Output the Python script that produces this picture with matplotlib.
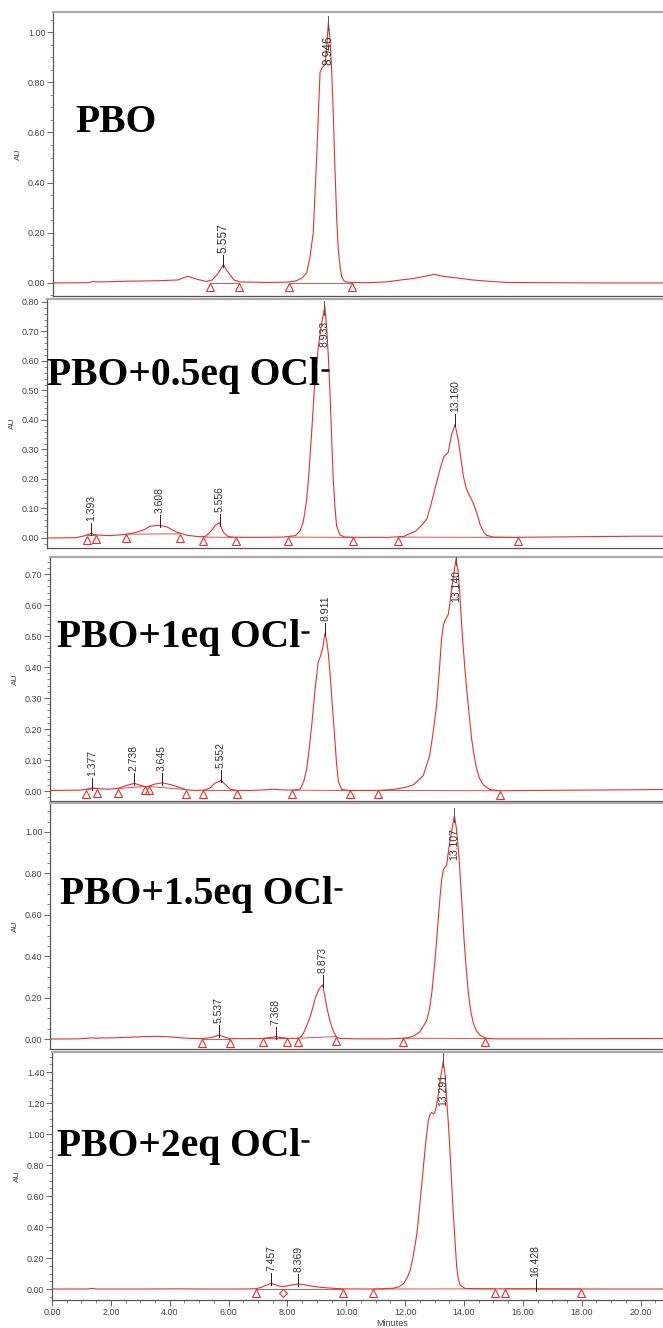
import numpy as np
import matplotlib
matplotlib.use('Agg')
import matplotlib.pyplot as plt
from matplotlib.ticker import MultipleLocator, FormatStrFormatter
from matplotlib.lines import Line2D
from matplotlib.transforms import IdentityTransform, offset_copy

W, H = 663, 1328
RED = '#e23232'

# chromatograms, (minutes, AU)
pbo = [(0, 0.0), (1.2, 0.001), (1.36, 0.006), (1.5, 0.004), (2.5, 0.007), (3.5, 0.009),
       (4.1, 0.012), (4.4, 0.027), (4.7, 0.015), (5.0, 0.006), (5.2, 0.012), (5.4, 0.04),
       (5.56, 0.073), (5.7, 0.045), (5.9, 0.012), (6.1, 0.004), (6.5, 0.003), (7.0, 0.002),
       (7.6, 0.003), (7.9, 0.008), (8.1, 0.02), (8.25, 0.04), (8.35, 0.1), (8.46, 0.2),
       (8.57, 0.5), (8.68, 0.84), (8.76, 0.86), (8.84, 0.87), (8.9, 0.95), (8.95, 1.04),
       (9.0, 0.97), (9.05, 0.86), (9.1, 0.7), (9.16, 0.46), (9.22, 0.25), (9.27, 0.13),
       (9.33, 0.06), (9.38, 0.024), (9.46, 0.008), (9.54, 0.004), (9.7, 0.002), (10.2, 0.001),
       (10.8, 0.004), (11.3, 0.012), (11.7, 0.018), (12.0, 0.025), (12.2, 0.03), (12.35, 0.035),
       (12.5, 0.03), (12.8, 0.024), (13.1, 0.02), (13.6, 0.012), (14.2, 0.006), (14.7, 0.002),
       (16, 0.001), (18, 0.0), (21, 0.0)]

eq05 = [(0, 0.0), (0.9, 0.001), (1.2, 0.008), (1.3, 0.012), (1.39, 0.016), (1.48, 0.011),
        (1.6, 0.01), (2.0, 0.008), (2.5, 0.012), (2.8, 0.018), (3.1, 0.028), (3.3, 0.04),
        (3.6, 0.043), (3.85, 0.037), (4.15, 0.02), (4.5, 0.009), (4.9, 0.004), (5.1, 0.006),
        (5.28, 0.025), (5.4, 0.042), (5.54, 0.052), (5.66, 0.02), (5.8, 0.006), (5.95, 0.003),
        (6.3, 0.002), (7.0, 0.002), (7.6, 0.003), (8.0, 0.008), (8.15, 0.025), (8.25, 0.054),
        (8.35, 0.12), (8.42, 0.2), (8.53, 0.37), (8.63, 0.54), (8.74, 0.65), (8.85, 0.73),
        (8.95, 0.785), (9.01, 0.71), (9.07, 0.6), (9.12, 0.48), (9.17, 0.34), (9.22, 0.2),
        (9.28, 0.1), (9.33, 0.04), (9.44, 0.01), (9.6, 0.003), (10.2, 0.002), (11.0, 0.002),
        (11.5, 0.005), (11.9, 0.024), (12.1, 0.045), (12.25, 0.065), (12.35, 0.1), (12.46, 0.145),
        (12.57, 0.19), (12.68, 0.235), (12.8, 0.275), (12.94, 0.29), (13.05, 0.35), (13.16, 0.385),
        (13.27, 0.33), (13.35, 0.27), (13.43, 0.21), (13.52, 0.17), (13.6, 0.15), (13.76, 0.116),
        (13.88, 0.08), (13.98, 0.043), (14.1, 0.018), (14.19, 0.009), (14.4, 0.003), (15.0, 0.002),
        (16, 0.003), (17, 0.004), (18, 0.005), (19, 0.006), (21, 0.006)]

eq1 = [(0, 0.002), (1.0, 0.003), (1.2, 0.006), (1.38, 0.01), (1.56, 0.008), (1.9, 0.006),
       (2.2, 0.008), (2.5, 0.018), (2.75, 0.025), (3.0, 0.017), (3.15, 0.014), (3.4, 0.022),
       (3.65, 0.027), (3.95, 0.02), (4.2, 0.012), (4.45, 0.004), (4.7, 0.002), (5.0, 0.003),
       (5.2, 0.01), (5.35, 0.025), (5.55, 0.035), (5.7, 0.02), (5.85, 0.006), (6.06, 0.002),
       (6.5, 0.002), (7.0, 0.004), (7.24, 0.006), (7.5, 0.004), (7.85, 0.003), (8.1, 0.006),
       (8.22, 0.03), (8.32, 0.073), (8.4, 0.14), (8.48, 0.213), (8.59, 0.33), (8.69, 0.417),
       (8.76, 0.435), (8.83, 0.46), (8.91, 0.51), (8.97, 0.48), (9.02, 0.44), (9.07, 0.38),
       (9.12, 0.31), (9.18, 0.23), (9.23, 0.16), (9.28, 0.09), (9.34, 0.03), (9.45, 0.005),
       (9.7, 0.002), (10.6, 0.002), (11.1, 0.005), (11.5, 0.012), (11.76, 0.02), (12.08, 0.05),
       (12.29, 0.116), (12.4, 0.19), (12.51, 0.277), (12.6, 0.39), (12.67, 0.49), (12.73, 0.535),
       (12.78, 0.55), (12.89, 0.57), (13.0, 0.654), (13.08, 0.71), (13.14, 0.75), (13.2, 0.71),
       (13.25, 0.654), (13.3, 0.57), (13.35, 0.49), (13.42, 0.4), (13.48, 0.33), (13.56, 0.25),
       (13.64, 0.17), (13.72, 0.115), (13.8, 0.073), (13.9, 0.04), (14.02, 0.02), (14.23, 0.005),
       (14.56, 0.001), (15.5, 0.002), (17, 0.003), (18.5, 0.004), (21, 0.006)]

eq15 = [(0, 0.0), (1.0, 0.001), (1.3, 0.004), (1.4, 0.006), (1.6, 0.004), (1.75, 0.006),
        (1.9, 0.005), (2.5, 0.008), (3.2, 0.012), (3.6, 0.013), (4.0, 0.01), (4.5, 0.004),
        (5.0, 0.002), (5.3, 0.008), (5.54, 0.019), (5.75, 0.008), (5.89, 0.002), (6.5, 0.002),
        (6.94, 0.003), (7.2, 0.008), (7.37, 0.011), (7.6, 0.006), (7.8, 0.003), (8.07, 0.004),
        (8.18, 0.012), (8.25, 0.027), (8.36, 0.065), (8.47, 0.108), (8.55, 0.15), (8.63, 0.196),
        (8.74, 0.237), (8.8, 0.25), (8.87, 0.262), (8.94, 0.21), (9.0, 0.156), (9.1, 0.09),
        (9.2, 0.043), (9.31, 0.011), (9.43, 0.003), (10, 0.001), (11, 0.001), (11.58, 0.005),
        (11.8, 0.015), (12.0, 0.035), (12.22, 0.09), (12.3, 0.14), (12.38, 0.22), (12.46, 0.34),
        (12.54, 0.48), (12.6, 0.6), (12.65, 0.69), (12.7, 0.77), (12.76, 0.82), (12.86, 0.84),
        (12.93, 0.92), (12.97, 0.96), (13.05, 1.03), (13.11, 1.08), (13.17, 1.02), (13.22, 0.945),
        (13.27, 0.85), (13.31, 0.75), (13.37, 0.61), (13.42, 0.48), (13.49, 0.34), (13.56, 0.22),
        (13.64, 0.13), (13.72, 0.076), (13.82, 0.04), (13.93, 0.019), (14.15, 0.003), (14.5, 0.001),
        (16, 0.001), (18, 0.002), (21, 0.003)]

eq2 = [(0, 0.0), (1.2, 0.0), (1.36, 0.004), (1.5, 0.0), (3, 0.0), (4.4, 0.001), (5, 0.0),
       (6.5, 0.0), (6.93, 0.002), (7.1, 0.01), (7.25, 0.022), (7.45, 0.037), (7.6, 0.027),
       (7.75, 0.018), (7.84, 0.016), (8.0, 0.02), (8.2, 0.028), (8.37, 0.032), (8.55, 0.028),
       (8.75, 0.021), (9.0, 0.014), (9.3, 0.008), (9.6, 0.004), (9.9, 0.001), (10.5, 0.0),
       (10.92, 0.0), (11.3, 0.002), (11.61, 0.005), (11.8, 0.015), (11.95, 0.037), (12.06, 0.07),
       (12.17, 0.12), (12.28, 0.22), (12.4, 0.36), (12.5, 0.55), (12.62, 0.79), (12.7, 0.95),
       (12.79, 1.09), (12.85, 1.13), (12.9, 1.14), (12.96, 1.13), (13.01, 1.14), (13.07, 1.19),
       (13.13, 1.26), (13.2, 1.36), (13.29, 1.47), (13.36, 1.38), (13.41, 1.22), (13.47, 1.06),
       (13.52, 0.9), (13.58, 0.68), (13.64, 0.47), (13.7, 0.29), (13.75, 0.144), (13.8, 0.07),
       (13.86, 0.026), (14.03, 0.004), (14.5, 0.001), (16, 0.001), (18, 0.0), (21, 0.0)]

# integration baselines (start t, start AU, end t, end AU)
pbo_base = [(5.13, 0.0, 6.07, 0.0), (7.69, 0.0, 9.70, 0.0)]
eq05_base = [(1.27, 0.008, 1.53, 0.009), (2.51, 0.013, 4.27, 0.014), (5.02, 0.003, 6.08, 0.002),
             (7.77, 0.003, 9.87, 0.002), (11.33, 0.003, 15.19, 0.002)]
eq1_base = [(1.19, 0.005, 1.56, 0.008), (2.21, 0.008, 3.10, 0.015), (3.21, 0.015, 4.41, 0.005),
            (4.98, 0.002, 6.06, 0.002), (7.85, 0.003, 9.72, 0.002), (10.63, 0.002, 14.56, 0.001)]
eq15_base = [(5.0, 0.002, 5.89, 0.002), (6.94, 0.003, 7.71, 0.003), (8.07, 0.004, 9.3, 0.012),
             (11.47, 0.004, 14.1, 0.003)]
eq2_base = [(6.93, 0.0, 9.9, 0.0), (10.92, 0.0, 15.06, 0.001), (15.39, 0.001, 17.96, 0.0)]
eq2_drops = [7.84]

# retention time labels
pbo_peaks = ['5.557', '8.946']
eq05_peaks = ['1.393', '3.608', '5.556', '8.933', '13.160']
eq1_peaks = ['1.377', '2.738', '3.645', '5.552', '8.911', '13.140']
eq15_peaks = ['5.537', '7.368', '8.873', '13.107']
eq2_peaks = ['7.457', '8.369', '13.291', '16.428']

names = ['PBO', 'PBO+0.5eq OCl', 'PBO+1eq OCl', 'PBO+1.5eq OCl', 'PBO+2eq OCl']

traces = [pbo, eq05, eq1, eq15, eq2]
bases = [pbo_base, eq05_base, eq1_base, eq15_base, eq2_base]
peaks = [pbo_peaks, eq05_peaks, eq1_peaks, eq15_peaks, eq2_peaks]

# layout in pixels: left, top, bottom, xlim, ylim, major, minor, name x, name baseline
layout = [
    (53, 12, 296, (0.06, 19.75), (-0.052, 1.08), 0.2, 0.05, 75, 132),
    (47, 299, 548, (-0.04, 19.89), (-0.034, 0.81), 0.1, 0.02, 47, 385),
    (50, 557, 801, (0.03, 19.82), (-0.032, 0.755), 0.1, 0.02, 57, 647),
    (50, 803, 1049, (0.1, 19.82), (-0.048, 1.14), 0.2, 0.05, 60, 904),
    (52, 1052, 1300, (0.0, 20.76), (-0.071, 1.53), 0.2, 0.05, 57, 1156),
]

fig = plt.figure(figsize=(W / 100, H / 100), dpi=100)
name_texts = []

for i in range(5):
    left, top, bot, xl, yl, major, minor, nx, nb = layout[i]
    ax = fig.add_axes([left / W, 1 - bot / H, (W - left) / W, (bot - top) / H])
    tr = np.array(traces[i])
    ax.plot(tr[:, 0], tr[:, 1], color=RED, lw=0.8, zorder=3)
    ax.set_xlim(*xl)
    ax.set_ylim(*yl)
    ppa = (bot - top) / (yl[1] - yl[0])

    below = offset_copy(ax.transData, fig=fig, y=-4, units='dots')
    for a, ya, b, yb in bases[i]:
        ax.plot([a, b], [ya, yb], color=RED, lw=0.6, zorder=2)
        ax.plot([a, b], [ya, yb], ls='none', marker='^', ms=6, mfc='none',
                mec=RED, mew=0.8, transform=below, zorder=4)
    if i == 4:
        for d in eq2_drops:
            ax.plot([d], [0], ls='none', marker='D', ms=4.5, mfc='none',
                    mec=RED, mew=0.8, transform=below, zorder=4)

    fs = 8.5 if i == 0 else 7.5
    for lbl in peaks[i]:
        t = float(lbl)
        ya = np.interp(t, tr[:, 0], tr[:, 1])
        room = (yl[1] - ya) * ppa
        if room < 50:
            ax.plot([t, t], [ya - 6 / ppa, ya + 8 / ppa], color='#555', lw=0.7, zorder=5)
            ax.text(t, ya - 12 / ppa, lbl, rotation=90, ha='center', va='top',
                    fontsize=fs, family='Liberation Sans', color='#333', zorder=6)
        else:
            ax.plot([t, t], [ya - 2 / ppa, ya + 10 / ppa], color='#222', lw=0.7, zorder=5)
            ax.text(t, ya + 12 / ppa, lbl, rotation=90, ha='center', va='bottom',
                    fontsize=fs, family='Liberation Sans', color='#333', zorder=6)

    ax.yaxis.set_major_locator(MultipleLocator(major))
    ax.yaxis.set_minor_locator(MultipleLocator(minor))
    ax.yaxis.set_major_formatter(FormatStrFormatter('%.2f'))
    ax.tick_params(axis='y', which='major', length=4, width=0.7, color='#666',
                   labelsize=6.5, labelcolor='#444', pad=1.5)
    ax.tick_params(axis='y', which='minor', length=2.5, width=0.6, color='#777')
    for lab in ax.get_yticklabels():
        lab.set_family('Liberation Sans')
    ax.set_ylabel('AU', fontsize=6, color='#444', family='Liberation Sans', labelpad=4)

    if i == 4:
        ax.xaxis.set_major_locator(MultipleLocator(2))
        ax.xaxis.set_minor_locator(MultipleLocator(0.5))
        ax.xaxis.set_major_formatter(FormatStrFormatter('%.2f'))
        ax.tick_params(axis='x', which='major', length=4, width=0.7, color='#666',
                       labelsize=6.5, labelcolor='#444', pad=2)
        ax.tick_params(axis='x', which='minor', length=2.5, width=0.6, color='#777')
        for lab in ax.get_xticklabels():
            lab.set_family('Liberation Sans')
    else:
        ax.tick_params(axis='x', which='both', bottom=False, labelbottom=False)

    ax.spines['right'].set_visible(False)
    ax.spines['top'].set_color('#aaaaaa')
    ax.spines['top'].set_linewidth(1.6)
    ax.spines['left'].set_color('#555555')
    ax.spines['left'].set_linewidth(0.9)
    ax.spines['bottom'].set_color('#555555')
    ax.spines['bottom'].set_linewidth(0.9)

    txt = fig.text(nx / W, 1 - nb / H, names[i], fontsize=28.5, family='Liberation Serif',
                   weight='bold', ha='left', va='baseline', color='black', zorder=10)
    name_texts.append((txt, nb))

fig.text(392 / W, 1 - 1324 / H, 'Minutes', fontsize=6.5, family='Liberation Sans',
         color='#444', ha='center', va='center')

# superscript minus after "OCl"
renderer = fig.canvas.get_renderer()
for txt, nb in name_texts[1:]:
    bb = txt.get_window_extent(renderer)
    yb = H - nb + 15
    fig.add_artist(Line2D([bb.x1 + 1, bb.x1 + 9], [yb, yb], transform=IdentityTransform(),
                          color='black', lw=1.8, solid_capstyle='butt', zorder=10))

fig.savefig('out.png', dpi=100)
